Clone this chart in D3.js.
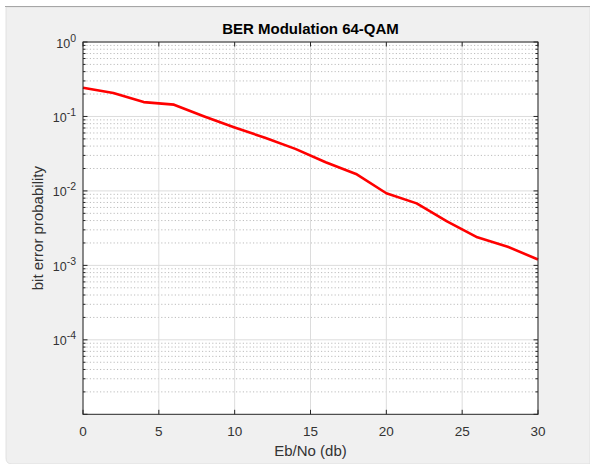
<!DOCTYPE html>
<html>
<head>
<meta charset="utf-8">
<script src="https://cdn.jsdelivr.net/npm/d3@7"></script>
<style>
  html, body { margin: 0; padding: 0; background: #ffffff; }
  svg { display: block; font-family: Arial, "Liberation Sans", Helvetica, sans-serif; }
</style>
</head>
<body>
<svg id="chart" width="590" height="464"></svg>
<script>
// Eb/No in dB and simulated bit error rate for 64-QAM
const ebno = [0, 2, 4, 6, 8, 10, 12, 14, 16, 18, 20, 22, 24, 26, 28, 30];
const ber  = [0.243, 0.206, 0.156, 0.144, 0.100, 0.0711, 0.0517, 0.0367, 0.0243, 0.0169,
              0.0093, 0.0068, 0.0039, 0.00238, 0.00178, 0.00120];

const xTicks = [0, 5, 10, 15, 20, 25, 30];
const yExponents = [0, -1, -2, -3, -4];

const titleText = "BER Modulation 64-QAM";
const xLabel = "Eb/No (db)";
const yLabel = "bit error probability";

const svg = d3.select("#chart");
const W = 590, H = 464;
const plot = { left: 83, right: 538, top: 42, bottom: 414.3 };
const axisColor = "#262626";

// figure panel
svg.append("path")
  .attr("d", `M6,7 H${W} V${H} H12 Q6,${H} 6,${H - 6} Z`)
  .attr("fill", "#f0f0f0")
  .attr("stroke", "#dcdcdc")
  .attr("stroke-width", 0.8);
svg.append("line")
  .attr("x1", 5).attr("x2", W).attr("y1", 6.5).attr("y2", 6.5)
  .attr("stroke", "#a6a6a6").attr("stroke-width", 1.2);

const x = d3.scaleLinear().domain([0, 30]).range([plot.left, plot.right]);
const y = d3.scaleLog().domain([1e-5, 1]).range([plot.bottom, plot.top]);

// axes background
svg.append("rect")
  .attr("x", plot.left).attr("y", plot.top)
  .attr("width", plot.right - plot.left).attr("height", plot.bottom - plot.top)
  .attr("fill", "#ffffff");

// minor values on the log axis: 2..9 x 10^k
const minorVals = [];
for (let k = -5; k < 0; k++) {
  for (let m = 2; m <= 9; m++) minorVals.push(m * Math.pow(10, k));
}
const majorVals = yExponents.map(e => Math.pow(10, e)).concat([1e-5]);

const grid = svg.append("g");
// minor dotted grid
grid.selectAll("line.minor")
  .data(minorVals)
  .join("line")
  .attr("class", "minor")
  .attr("x1", plot.left).attr("x2", plot.right)
  .attr("y1", d => y(d)).attr("y2", d => y(d))
  .attr("stroke", "#bdbdbd")
  .attr("stroke-width", 1)
  .attr("stroke-dasharray", "1.2,2.2");
// major horizontal grid
grid.selectAll("line.majory")
  .data(yExponents.map(e => Math.pow(10, e)))
  .join("line")
  .attr("class", "majory")
  .attr("x1", plot.left).attr("x2", plot.right)
  .attr("y1", d => y(d)).attr("y2", d => y(d))
  .attr("stroke", "#dcdcdc")
  .attr("stroke-width", 1);
// major vertical grid
grid.selectAll("line.majorx")
  .data(xTicks)
  .join("line")
  .attr("class", "majorx")
  .attr("x1", d => x(d)).attr("x2", d => x(d))
  .attr("y1", plot.top).attr("y2", plot.bottom)
  .attr("stroke", "#dcdcdc")
  .attr("stroke-width", 1);

// BER curve
const line = d3.line()
  .x((d, i) => x(ebno[i]))
  .y(d => y(d));
svg.append("path")
  .datum(ber)
  .attr("d", line)
  .attr("fill", "none")
  .attr("stroke", "#ff0000")
  .attr("stroke-width", 2.6)
  .attr("stroke-linejoin", "round");

// axis box
svg.append("rect")
  .attr("x", plot.left).attr("y", plot.top)
  .attr("width", plot.right - plot.left).attr("height", plot.bottom - plot.top)
  .attr("fill", "none")
  .attr("stroke", axisColor)
  .attr("stroke-width", 1);

// inward ticks
const ticks = svg.append("g").attr("stroke", axisColor).attr("stroke-width", 1);
xTicks.forEach(v => {
  ticks.append("line").attr("x1", x(v)).attr("x2", x(v))
    .attr("y1", plot.bottom).attr("y2", plot.bottom - 4.5);
  ticks.append("line").attr("x1", x(v)).attr("x2", x(v))
    .attr("y1", plot.top).attr("y2", plot.top + 4.5);
});
majorVals.forEach(v => {
  ticks.append("line").attr("x1", plot.left).attr("x2", plot.left + 4.5)
    .attr("y1", y(v)).attr("y2", y(v));
  ticks.append("line").attr("x1", plot.right).attr("x2", plot.right - 4.5)
    .attr("y1", y(v)).attr("y2", y(v));
});
minorVals.forEach(v => {
  ticks.append("line").attr("x1", plot.left).attr("x2", plot.left + 2.5)
    .attr("y1", y(v)).attr("y2", y(v));
  ticks.append("line").attr("x1", plot.right).attr("x2", plot.right - 2.5)
    .attr("y1", y(v)).attr("y2", y(v));
});

// x tick labels
svg.append("g").selectAll("text")
  .data(xTicks)
  .join("text")
  .attr("x", d => x(d))
  .attr("y", plot.bottom + 22)
  .attr("text-anchor", "middle")
  .attr("font-size", 13.5)
  .attr("fill", "#333333")
  .text(d => d);

// y tick labels as powers of ten
const yl = svg.append("g").selectAll("text")
  .data(yExponents)
  .join("text")
  .attr("x", plot.left - 7)
  .attr("y", d => y(Math.pow(10, d)) + 5.5)
  .attr("text-anchor", "end")
  .attr("font-size", 12.5)
  .attr("fill", "#333333");
yl.append("tspan").text("10");
yl.append("tspan")
  .attr("dy", -6)
  .attr("font-size", 10.5)
  .text(d => d === 0 ? "0" : "-" + Math.abs(d));

// title
svg.append("text")
  .attr("x", (plot.left + plot.right) / 2)
  .attr("y", 34)
  .attr("text-anchor", "middle")
  .attr("font-size", 15)
  .attr("font-weight", "bold")
  .attr("fill", "#000000")
  .text(titleText);

// x label
svg.append("text")
  .attr("x", (plot.left + plot.right) / 2)
  .attr("y", 456)
  .attr("text-anchor", "middle")
  .attr("font-size", 15)
  .attr("fill", "#333333")
  .text(xLabel);

// y label
svg.append("text")
  .attr("transform", `translate(43,${(plot.top + plot.bottom) / 2}) rotate(-90)`)
  .attr("text-anchor", "middle")
  .attr("font-size", 15)
  .attr("fill", "#333333")
  .text(yLabel);
</script>
</body>
</html>
